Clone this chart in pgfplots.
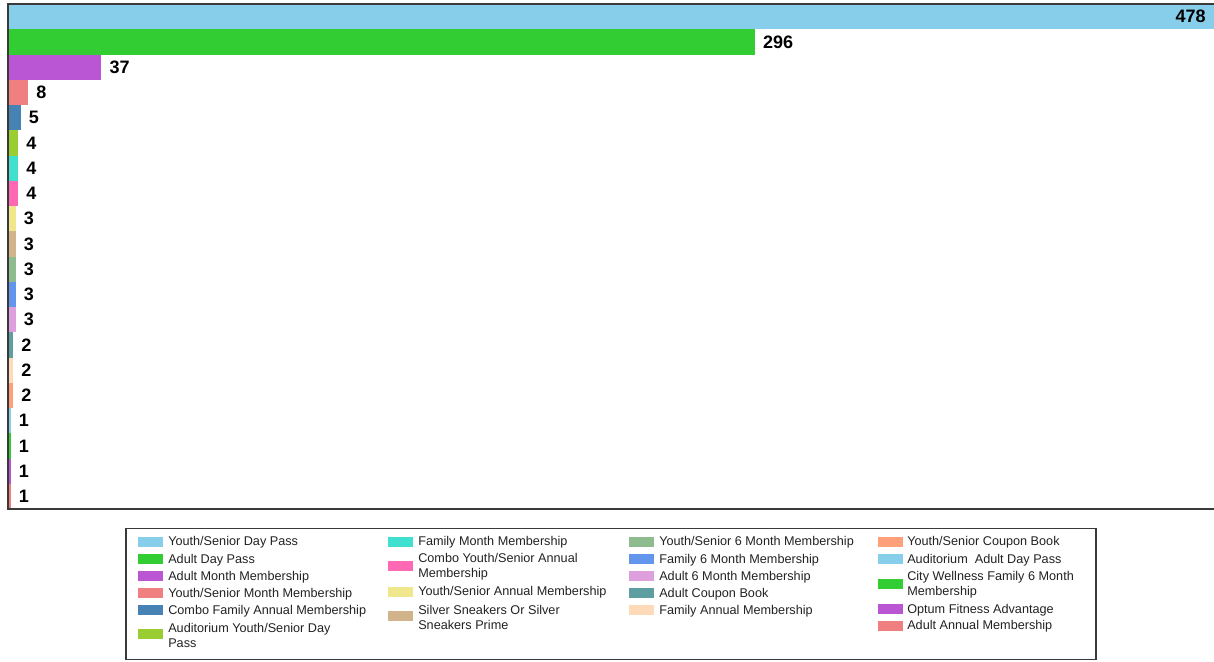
\documentclass[border=0pt]{standalone}
\usepackage{pgfplots}
\pgfplotsset{compat=1.18}
\usepackage{fontspec}
\setmainfont{Liberation Sans}
\definecolor{cA}{HTML}{87CEEB}
\definecolor{cB}{HTML}{32CD32}
\definecolor{cC}{HTML}{BA55D3}
\definecolor{cD}{HTML}{F08080}
\definecolor{cE}{HTML}{4682B4}
\definecolor{cF}{HTML}{9ACD32}
\definecolor{cG}{HTML}{40E0D0}
\definecolor{cH}{HTML}{FF69B4}
\definecolor{cI}{HTML}{F0E68C}
\definecolor{cJ}{HTML}{D2B48C}
\definecolor{cK}{HTML}{8FBC8F}
\definecolor{cL}{HTML}{6495ED}
\definecolor{cM}{HTML}{DDA0DD}
\definecolor{cN}{HTML}{5F9EA0}
\definecolor{cO}{HTML}{FFDAB9}
\definecolor{cP}{HTML}{FFA07A}
\definecolor{frame}{HTML}{3A3A3A}
\definecolor{txt}{HTML}{222222}
\newcommand{\legitem}[5]{%
  \fill[#4] (#1,#3-5) rectangle (#1+25,#3+5);
  \node[anchor=west,inner sep=0pt,align=left,text=txt,font=\fontsize{9.5}{11.25}\selectfont] at (#2,#3+1) {#5};
}
\begin{document}
\begin{tikzpicture}
\useasboundingbox (0pt,0pt) rectangle (910.5pt,-495.75pt);
\begin{axis}[
  anchor=north west, at={(6pt,-3pt)},
  width=904.5pt, height=378.75pt, scale only axis,
  xbar, y dir=reverse,
  xmin=0, xmax=478, ymin=0.5, ymax=20.5,
  enlargelimits=false,
  hide axis,
  bar width=1,
  nodes near coords,
  /pgf/number format/assume math mode=true,
  every node near coord/.append style={anchor=west, inner sep=0pt, xshift=6pt, text=black,
    font=\bfseries\fontsize{13.5}{14}\selectfont},
  every axis plot/.append style={draw=none, bar shift=0pt},
  clip=false,
]
\addplot[fill=cA, every node near coord/.append style={anchor=east, xshift=-12pt}] coordinates {(478,1)};
\addplot[fill=cB] coordinates {(296,2)};
\addplot[fill=cC] coordinates {(37,3)};
\addplot[fill=cD] coordinates {(8,4)};
\addplot[fill=cE] coordinates {(5,5)};
\addplot[fill=cF] coordinates {(4,6)};
\addplot[fill=cG] coordinates {(4,7)};
\addplot[fill=cH] coordinates {(4,8)};
\addplot[fill=cI] coordinates {(3,9)};
\addplot[fill=cJ] coordinates {(3,10)};
\addplot[fill=cK] coordinates {(3,11)};
\addplot[fill=cL] coordinates {(3,12)};
\addplot[fill=cM] coordinates {(3,13)};
\addplot[fill=cN] coordinates {(2,14)};
\addplot[fill=cO] coordinates {(2,15)};
\addplot[fill=cP] coordinates {(2,16)};
\addplot[fill=cA] coordinates {(1,17)};
\addplot[fill=cB] coordinates {(1,18)};
\addplot[fill=cC] coordinates {(1,19)};
\addplot[fill=cD] coordinates {(1,20)};
\draw[frame, line width=1.1pt] (rel axis cs:1.01,0) -- (rel axis cs:0,0) -- (rel axis cs:0,1) -- (rel axis cs:1.01,1);
\end{axis}
\begin{scope}[x=0.75pt,y=-0.75pt]
\draw[frame, line width=0.8pt] (126,528.5) rectangle (1096,659.5);
\legitem{138}{168}{541.7}{cA}{Youth/Senior Day Pass}
\legitem{138}{168}{559}{cB}{Adult Day Pass}
\legitem{138}{168}{576}{cC}{Adult Month Membership}
\legitem{138}{168}{593}{cD}{Youth/Senior Month Membership}
\legitem{138}{168}{610}{cE}{Combo Family Annual Membership}
\legitem{138}{168}{634}{cF}{Auditorium Youth/Senior Day\\Pass}
\legitem{388}{418}{541.7}{cG}{Family Month Membership}
\legitem{388}{418}{566}{cH}{Combo Youth/Senior Annual\\Membership}
\legitem{388}{418}{591.7}{cI}{Youth/Senior Annual Membership}
\legitem{388}{418}{616}{cJ}{Silver Sneakers Or Silver\\Sneakers Prime}
\legitem{629}{659}{541.7}{cK}{Youth/Senior 6 Month Membership}
\legitem{629}{659}{559}{cL}{Family 6 Month Membership}
\legitem{629}{659}{576}{cM}{Adult 6 Month Membership}
\legitem{629}{659}{593}{cN}{Adult Coupon Book}
\legitem{629}{659}{610}{cO}{Family Annual Membership}
\legitem{878}{907}{541.7}{cP}{Youth/Senior Coupon Book}
\legitem{878}{907}{559}{cA}{Auditorium\ \ Adult Day Pass}
\legitem{878}{907}{583.5}{cB}{City Wellness Family 6 Month\\Membership}
\legitem{878}{907}{609}{cC}{Optum Fitness Advantage}
\legitem{878}{907}{625.7}{cD}{Adult Annual Membership}
\end{scope}
\end{tikzpicture}
\end{document}
